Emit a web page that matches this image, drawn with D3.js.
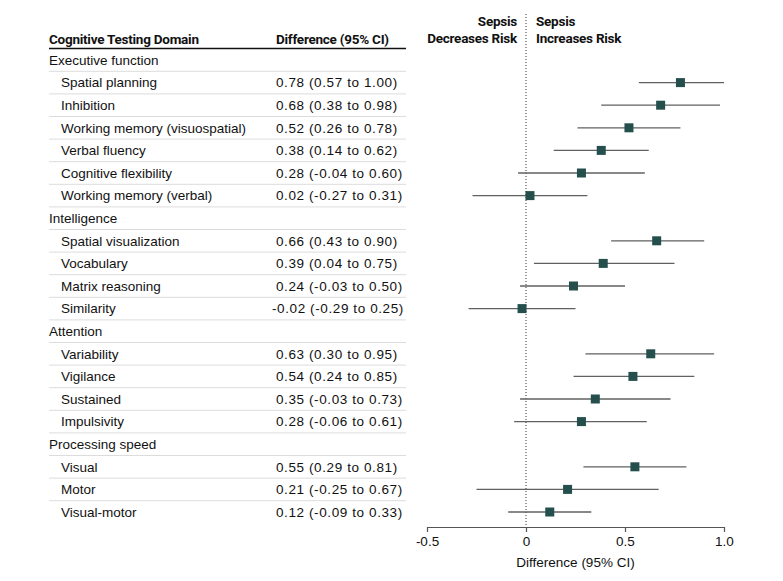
<!DOCTYPE html>
<html>
<head>
<meta charset="utf-8">
<script src="https://cdn.jsdelivr.net/npm/d3@7"></script>
<style>
  body { margin: 0; background: #fff; }
  svg { font-family: "Liberation Sans", Arial, sans-serif; }
  .bold { font-family: Roboto, "Liberation Sans", sans-serif; font-weight: bold; font-size: 13.5px; letter-spacing: -0.25px; }
</style>
</head>
<body>
<script>
// rows of the table, group headers have no values
var labels = ["Executive function", "Spatial planning", "Inhibition", "Working memory (visuospatial)",
  "Verbal fluency", "Cognitive flexibility", "Working memory (verbal)",
  "Intelligence", "Spatial visualization", "Vocabulary", "Matrix reasoning", "Similarity",
  "Attention", "Variability", "Vigilance", "Sustained", "Impulsivity",
  "Processing speed", "Visual", "Motor", "Visual-motor"];
var isGroup = [1,0,0,0,0,0,0, 1,0,0,0,0, 1,0,0,0,0, 1,0,0,0];
var est   = [null, 0.78, 0.68, 0.52, 0.38, 0.28, 0.02, null, 0.66, 0.39, 0.24, -0.02, null, 0.63, 0.54, 0.35, 0.28, null, 0.55, 0.21, 0.12];
var lower = [null, 0.57, 0.38, 0.26, 0.14, -0.04, -0.27, null, 0.43, 0.04, -0.03, -0.29, null, 0.30, 0.24, -0.03, -0.06, null, 0.29, -0.25, -0.09];
var upper = [null, 1.00, 0.98, 0.78, 0.62, 0.60, 0.31, null, 0.90, 0.75, 0.50, 0.25, null, 0.95, 0.85, 0.73, 0.61, null, 0.81, 0.67, 0.33];
var xTicks = [-0.5, 0, 0.5, 1.0];
var xTickLabels = ["-0.5", "0", "0.5", "1.0"];

var svg = d3.select("body").append("svg")
  .attr("width", 783)
  .attr("height", 581);

var y = d3.scalePoint()
  .domain(d3.range(labels.length))
  .range([60, 512]);
var step = y.step();

var x = d3.scaleLinear()
  .domain([-0.5, 1.0])
  .range([427, 724]);

var fmt = function(v){ return v.toFixed(2); };

// table header
svg.append("text").attr("class", "bold").attr("x", 49).attr("y", 44)
  .attr("fill", "#111")
  .text("Cognitive Testing Domain");
svg.append("text").attr("class", "bold").attr("x", 276).attr("y", 44)
  .attr("fill", "#111")
  .text("Difference (95% CI)");
svg.append("line").attr("x1", 49).attr("x2", 406).attr("y1", 48.5).attr("y2", 48.5)
  .attr("stroke", "#111").attr("stroke-width", 1.3);

// separators between rows
svg.selectAll(".sep").data(d3.range(labels.length - 1)).enter()
  .append("line").attr("class", "sep")
  .attr("x1", 49).attr("x2", 406)
  .attr("y1", function(i){ return y(i) + step / 2; })
  .attr("y2", function(i){ return y(i) + step / 2; })
  .attr("stroke", "#dcdcdc").attr("stroke-width", 1);

// row labels
svg.selectAll(".lab").data(labels).enter()
  .append("text").attr("class", "lab")
  .attr("x", function(d, i){ return isGroup[i] ? 49 : 61; })
  .attr("y", function(d, i){ return y(i) + 4.8; })
  .style("font-size", "13.5px").attr("fill", "#111")
  .text(function(d){ return d; });

// difference column
var rows = d3.range(labels.length).filter(function(i){ return !isGroup[i]; });
svg.selectAll(".val").data(rows).enter()
  .append("text").attr("class", "val")
  .attr("x", function(i){ return est[i] < 0 ? 272 : 276; })
  .attr("y", function(i){ return y(i) + 4.8; })
  .style("font-size", "13.5px").style("letter-spacing", "0.6px").attr("fill", "#111")
  .text(function(i){ return fmt(est[i]) + " (" + fmt(lower[i]) + " to " + fmt(upper[i]) + ")"; });

// reference line at zero
svg.append("line")
  .attr("x1", x(0)).attr("x2", x(0))
  .attr("y1", 14).attr("y2", 527)
  .attr("stroke", "#333").attr("stroke-width", 1)
  .attr("stroke-dasharray", "1,2");

// direction labels
var dir = svg.append("g").attr("class", "bold").attr("fill", "#111");
dir.append("text").attr("x", x(0) - 9).attr("y", 26).attr("text-anchor", "end").text("Sepsis");
dir.append("text").attr("x", x(0) - 9).attr("y", 43).attr("text-anchor", "end").text("Decreases Risk");
dir.append("text").attr("x", x(0) + 10).attr("y", 26).text("Sepsis");
dir.append("text").attr("x", x(0) + 10).attr("y", 43).text("Increases Risk");

// CI lines
svg.selectAll(".ci").data(rows).enter()
  .append("line").attr("class", "ci")
  .attr("x1", function(i){ return x(lower[i]); })
  .attr("x2", function(i){ return x(upper[i]); })
  .attr("y1", function(i){ return y(i); })
  .attr("y2", function(i){ return y(i); })
  .attr("stroke", "#5f6262").attr("stroke-width", 1.3);

// point estimates
var sq = 9;
svg.selectAll(".pt").data(rows).enter()
  .append("rect").attr("class", "pt")
  .attr("x", function(i){ return x(est[i]) - sq / 2; })
  .attr("y", function(i){ return y(i) - sq / 2; })
  .attr("width", sq).attr("height", sq)
  .attr("fill", "#244f4c");

// x axis
var axis = d3.axisBottom(x)
  .tickValues(xTicks)
  .tickFormat(function(d, i){ return xTickLabels[i]; })
  .tickSize(5).tickSizeOuter(0);
var gx = svg.append("g").attr("transform", "translate(0,527)").call(axis);
gx.select(".domain").attr("stroke", "#555").attr("stroke-width", 1.2);
gx.selectAll(".tick line").attr("stroke", "#555").attr("stroke-width", 1.2);
gx.selectAll(".tick text")
  .attr("y", 9)
  .style("font-size", "13.5px").style("font-family", "Liberation Sans, Arial, sans-serif")
  .attr("fill", "#111");

svg.append("text")
  .attr("x", (x(-0.5) + x(1.0)) / 2).attr("y", 567)
  .attr("text-anchor", "middle")
  .style("font-size", "13.5px").attr("fill", "#111")
  .text("Difference (95% CI)");
</script>
</body>
</html>
